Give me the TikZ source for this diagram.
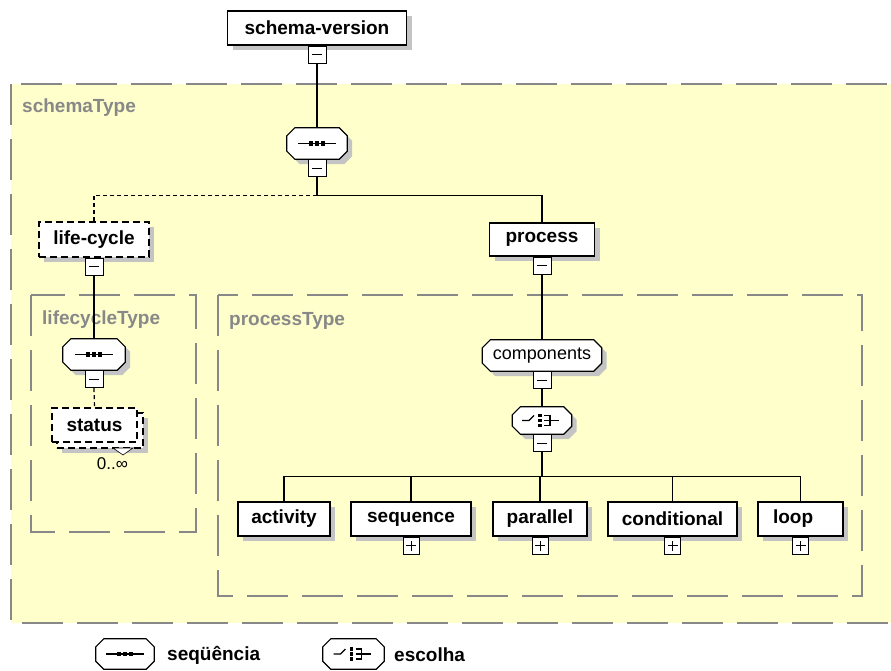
\documentclass[tikz,border=0pt]{standalone}
\usepackage{fontspec}
\setmainfont{Liberation Sans}
\usetikzlibrary{shadows}

\definecolor{typefill}{RGB}{255,255,204}
\definecolor{typegray}{RGB}{136,136,136}
\definecolor{shadowgray}{RGB}{196,196,196}

\pgfdeclarelayer{back}
\pgfdeclarelayer{oct}
\pgfsetlayers{back,oct,main}

% octagon round a node
\newcommand{\octoutline}[1]{([xshift=8pt]#1.north west) -- ([xshift=-8pt]#1.north east)
  -- ([yshift=-8pt]#1.north east) -- ([yshift=8pt]#1.south east) -- ([xshift=-8pt]#1.south east)
  -- ([xshift=8pt]#1.south west) -- ([yshift=8pt]#1.south west) -- ([yshift=-8pt]#1.north west) -- cycle}
\newcommand{\octframe}[2][boxshadow]{%
  \begin{pgfonlayer}{oct}\draw[octline,#1] \octoutline{#2};\end{pgfonlayer}}

% compositor symbols
\newcommand{\seqsym}[1]{%
  \begin{scope}[shift={(#1)}]
    \draw[line width=1.2pt] (-19,0) -- (19,0);
    \foreach \dx in {-6,0,6}
      \fill (\dx-2.4,-2.4) rectangle (\dx+2.4,2.4);
  \end{scope}}
\newcommand{\choicesym}[1]{%
  \begin{scope}[shift={(#1)}, line width=1.2pt]
    \draw (-20,0) -- (-13,0) -- (-8,-5);
    \foreach \dy in {-5,0,5}
      \fill (-4,\dy-1.8) rectangle (-0.5,\dy+1.8);
    \draw (2,-5) -- (8,-5) -- (8,5) -- (2,5);
    \draw (2,0) -- (17,0);
  \end{scope}}

\begin{document}
\begin{tikzpicture}[x=1pt, y=-1pt,
    boxshadow/.style={drop shadow={shadow xshift=5pt, shadow yshift=-5pt, fill=shadowgray, opacity=1}},
    elembox/.style={draw, fill=white, line width=1.2pt, inner sep=0pt, minimum height=34pt,
        font=\bfseries\fontsize{19}{21}\selectfont},
    elem/.style={elembox, boxshadow},
    optdash/.style={dash pattern=on 7pt off 4pt},
    octline/.style={draw, fill=white, line width=1.2pt},
    compositor/.style={inner sep=0pt, minimum width=60pt, minimum height=31pt},
    smallbox/.style={draw, fill=white, line width=1pt, inner sep=0pt, minimum width=18pt,
        minimum height=17pt, anchor=north},
    minusbox/.style={smallbox, path picture={
        \draw[line width=1pt] ([xshift=-5pt]path picture bounding box.center)
            -- ([xshift=5pt]path picture bounding box.center);}},
    plusbox/.style={smallbox, minimum width=16pt, path picture={
        \draw[line width=1pt] ([xshift=-5pt]path picture bounding box.center)
            -- ([xshift=5pt]path picture bounding box.center);
        \draw[line width=1pt] ([yshift=-5pt]path picture bounding box.center)
            -- ([yshift=5pt]path picture bounding box.center);}},
    conn/.style={line width=1.2pt},
    optconn/.style={conn, dash pattern=on 4pt off 3pt},
    typebox/.style={draw=typegray, line width=1.5pt, dash pattern=on 41pt off 14pt},
    typename/.style={text=typegray, font=\bfseries\fontsize{19}{21}\selectfont, anchor=west, inner sep=0pt},
    legendtext/.style={font=\bfseries\fontsize{19}{21}\selectfont, anchor=west, inner sep=0pt}
]
\useasboundingbox (0,0) rectangle (891,671);
\clip (0,0) rectangle (891,671);

% complex types
\begin{pgfonlayer}{back}
\draw[typebox, fill=typefill] (11,84) rectangle (900,623);
\draw[typebox] (31,295) rectangle (196,532);
\draw[typebox] (218,295) rectangle (862,596);
\end{pgfonlayer}
\node[typename] (schemaType) at (22,108) {schemaType};
\node[typename] (lifecycleType) at (42,320) {lifecycleType};
\node[typename] (processType) at (229,321) {processType};

% root
\node[elem, minimum width=179pt] (sv) at (317,28) {schema-version};
\node[minusbox] (sv-m) at (sv.south) {};
\node[compositor] (sv-seq) at (317,143.5) {};
\octframe{sv-seq}
\seqsym{sv-seq.center}
\node[minusbox] (sv-seq-m) at (sv-seq.south) {};

% life-cycle branch
\node[elem, optdash, minimum width=110pt, minimum height=35pt] (lc) at (94,239.5) {life-cycle};
\node[minusbox] (lc-m) at (lc.south) {};
\node[compositor, minimum width=62pt] (lc-seq) at (94,354.5) {};
\octframe{lc-seq}
\seqsym{lc-seq.center}
\node[minusbox] (lc-seq-m) at (lc-seq.south) {};
\node[elem, optdash, minimum width=86pt, minimum height=35pt] (status-back) at (100,430.5) {};
\node[elembox, optdash, minimum width=85pt] (status) at (94.5,425) {status};
\draw[fill=white, line width=0.6pt] (113,448) -- (133,448) -- (123,455) -- cycle;
\node[font=\fontsize{17}{19}\selectfont, inner sep=0pt] (status-occ) at (112.5,464) {0..∞};

% process branch
\node[elem, minimum width=105pt, minimum height=33pt] (proc) at (542,239.5) {process};
\node[minusbox] (proc-m) at (proc.south) {};
\node[compositor, minimum width=119pt, font=\fontsize{18}{20}\selectfont] (comp) at (542,355.5) {components};
\octframe{comp}
\node[minusbox] (comp-m) at (comp.south) {};
\node[compositor, minimum width=59pt, minimum height=27pt] (choice) at (542,420.5) {};
\octframe{choice}
\choicesym{choice.center}
\node[minusbox] (choice-m) at (choice.south) {};

\node[elem, minimum width=92pt] (act) at (284,519) {activity};
\node[elem, minimum width=120pt] (seq) at (411,519) {sequence};
\node[plusbox] (seq-p) at (seq.south) {};
\node[elem, minimum width=94pt] (par) at (540,519) {parallel};
\node[plusbox] (par-p) at (par.south) {};
\node[elem, minimum width=129pt] (cond) at (672.5,519) {conditional};
\node[plusbox] (cond-p) at (cond.south) {};
\node[elem, minimum width=85pt, text width=55pt, align=left] (loop) at (800.5,519) {loop};
\node[plusbox] (loop-p) at (loop.south) {};

% connectors
\draw[conn] (sv-m.south) -- (sv-seq.north);
\draw[conn] (sv-seq-m.south) -- ++(0,18) coordinate (j1);
\draw[optconn] (j1) -| (lc.north);
\draw[conn] (j1) -| (proc.north);
\draw[conn] (lc-m.south) -- (lc-seq.north);
\draw[optconn] (lc-seq-m.south) -- (status.north);
\draw[conn] (proc-m.south) -- (comp.north);
\draw[conn] (comp-m.south) -- (choice.north);
\draw[conn] (choice-m.south) -- ++(0,24) coordinate (j2);
\foreach \n in {act,seq,par,cond,loop}
    \draw[conn] (j2) -| (\n.north);

% legend
\node[compositor, minimum width=58pt, minimum height=30pt] (leg-seq) at (125,654) {};
\octframe[]{leg-seq}
\seqsym{leg-seq.center}
\node[legendtext] (leg-seq-txt) at (167,655) {seqüência};
\node[compositor, minimum width=61pt, minimum height=30pt] (leg-choice) at (353.5,654) {};
\octframe[]{leg-choice}
\choicesym{leg-choice.center}
\node[legendtext] (leg-choice-txt) at (394,655) {escolha};
\end{tikzpicture}
\end{document}
